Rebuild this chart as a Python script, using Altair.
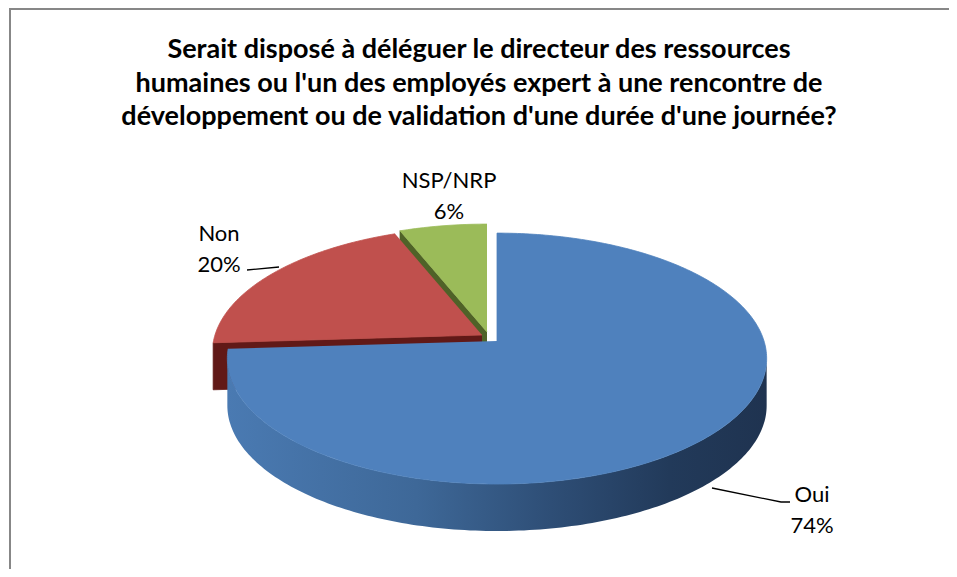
import math
import altair as alt
import pandas as pd

# ---------------- data ----------------
CATEGORIES = ["Oui", "Non", "NSP/NRP"]
PERCENTS = [74, 20, 6]
TITLE_LINES = [
    "Serait disposé à déléguer le directeur des ressources",
    "humaines ou l'un des employés expert à une rencontre de",
    "développement ou de validation d'une durée d'une journée?",
]

# ---------------- styles ----------------
TOP_COLORS = ["#4F81BD", "#C0504D", "#9BBB59"]
FACE_COLORS = ["#2F5179", "#611917", "#4F6228"]
WALL_COLORS = ["#2F5179", "#7A2624", "#5E7530"]
BLUE_WALL_STOPS = [(0.0, "#4A7AB2"), (0.35, "#3E6898"), (0.6, "#2E4E76"),
                   (0.82, "#223A5A"), (1.0, "#1F3350")]
FONT = "Lato"

# ---------------- layout (page pixels) ----------------
W, H, PAGE = 941, 561, 8
CX, CY = 487.0, 332.0          # pie centre
SX, KY, PERSP = 267.0, 123.0, 0.14
DEPTH = 47.0
OFFSETS = [(10.0, 9.0), (-5.0, 3.0), (0.0, 0.0)]   # exploded slices
VIS0 = math.degrees(math.acos(-PERSP))
VIS1 = 360.0 - VIS0

TITLE_X, TITLE_Y0, TITLE_LH = 479, 58, 33.5
LABEL_POS = [(812, 502), (219, 241), (449, 188)]   # first-line centre/baseline
LABEL_LH = 31
LEADERS = [[(712, 488), (781, 502), (790, 502)],
           [(247, 270), (279, 267)],
           []]
BORDER = [(10, 8, 10, 569), (10, 9, 949, 9)]

XS = alt.Scale(domain=[PAGE, PAGE + W], nice=False, zero=False)
YS = alt.Scale(domain=[PAGE, PAGE + H], nice=False, zero=False, reverse=True)


def proj(i, a_deg, drop=0.0):
    a = math.radians(a_deg)
    X, Y = math.sin(a), math.cos(a)
    d = 1 + PERSP * Y
    ox, oy = OFFSETS[i]
    return (CX + ox + SX * X / d, CY + oy - KY * Y / d + drop)


def apex(i, drop=0.0):
    ox, oy = OFFSETS[i]
    return (CX + ox, CY + oy + drop)


def arc(i, a0, a1, drop=0.0):
    n = max(2, int(abs(a1 - a0)) + 2)
    return [proj(i, a0 + (a1 - a0) * k / (n - 1), drop) for k in range(n)]


# slice angles
total = float(sum(PERCENTS))
angles = []
cum = 0.0
for v in PERCENTS:
    angles.append((360 * cum / total, 360 * (cum + v) / total))
    cum += v

# paint order: farthest slice first
order_idx = sorted(range(len(CATEGORIES)),
                   key=lambda i: -math.cos(math.radians(sum(angles[i]) / 2)))

polys = []  # (name, points, fill)
for i in order_idx:
    a0, a1 = angles[i]
    if math.cos(math.radians(a0 - 90)) < -0.01:
        pts = [apex(i), proj(i, a0), proj(i, a0, DEPTH), apex(i, DEPTH)]
        polys.append((f"face0_{i}", pts, FACE_COLORS[i]))
    if math.cos(math.radians(a1 + 90)) < -0.01:
        pts = [apex(i), proj(i, a1), proj(i, a1, DEPTH), apex(i, DEPTH)]
        polys.append((f"face1_{i}", pts, FACE_COLORS[i]))
    w0, w1 = max(a0, VIS0), min(a1, VIS1)
    if w1 > w0:
        pts = arc(i, w0, w1) + arc(i, w1, w0, DEPTH)
        if i == 0:
            fill = alt.Gradient(
                gradient="linear", x1=0, x2=1, y1=0, y2=0,
                stops=[alt.GradientStop(offset=o, color=c) for o, c in BLUE_WALL_STOPS])
        else:
            fill = WALL_COLORS[i]
        polys.append((f"wall_{i}", pts, fill))
    pts = [apex(i)] + arc(i, a0, a1)
    polys.append((f"top_{i}", pts, TOP_COLORS[i]))

rows = []
for name, pts, _ in polys:
    for k, (x, y) in enumerate(pts):
        rows.append({"poly": name, "k": k, "x": x, "y": y})
poly_df = pd.DataFrame(rows)

layers = []

# border
border_df = pd.DataFrame([{"x": a, "y": b, "x2": c, "y2": d} for a, b, c, d in BORDER])
layers.append(alt.Chart(border_df).mark_rule(color="#878787", strokeWidth=2).encode(
    x=alt.X("x:Q", scale=XS, axis=None), y=alt.Y("y:Q", scale=YS, axis=None),
    x2="x2:Q", y2="y2:Q"))

for name, pts, fill in polys:
    solid = isinstance(fill, str)
    mk = dict(fill=fill, interpolate="linear")
    if solid:
        mk.update(stroke=fill, strokeWidth=0.8)
    else:
        mk.update(strokeWidth=0)
    layers.append(
        alt.Chart(poly_df).transform_filter(alt.datum.poly == name)
        .mark_line(**mk)
        .encode(x=alt.X("x:Q", scale=XS, axis=None),
                y=alt.Y("y:Q", scale=YS, axis=None),
                order="k:Q"))

# leader lines
lead_rows = []
for i, pts in enumerate(LEADERS):
    for k, (x, y) in enumerate(pts):
        lead_rows.append({"lead": CATEGORIES[i], "k": k, "x": x, "y": y})
lead_df = pd.DataFrame(lead_rows)
layers.append(alt.Chart(lead_df).mark_line(color="#000000", strokeWidth=1.3).encode(
    x=alt.X("x:Q", scale=XS, axis=None), y=alt.Y("y:Q", scale=YS, axis=None),
    detail="lead:N", order="k:Q"))

# data labels
lab_rows = []
for i, cat in enumerate(CATEGORIES):
    x, y = LABEL_POS[i]
    lab_rows.append({"t": cat, "x": x, "y": y})
    lab_rows.append({"t": f"{PERCENTS[i]}%", "x": x, "y": y + LABEL_LH})
lab_df = pd.DataFrame(lab_rows)
layers.append(alt.Chart(lab_df).mark_text(
    font=FONT, fontSize=22, align="center", baseline="alphabetic", color="#000000").encode(
    x=alt.X("x:Q", scale=XS, axis=None), y=alt.Y("y:Q", scale=YS, axis=None), text="t:N"))

# title
title_df = pd.DataFrame([{"t": t, "x": TITLE_X, "y": TITLE_Y0 + j * TITLE_LH}
                         for j, t in enumerate(TITLE_LINES)])
layers.append(alt.Chart(title_df).mark_text(
    font=FONT, fontSize=27, fontWeight="bold", align="center", baseline="alphabetic",
    color="#000000").encode(
    x=alt.X("x:Q", scale=XS, axis=None), y=alt.Y("y:Q", scale=YS, axis=None), text="t:N"))

chart = alt.layer(*layers).properties(
    width=W, height=H, padding=0, autosize=alt.AutoSizeParams(type="none"),
    background="#ffffff",
).configure_view(stroke=None)

chart.save("out.html", embed_options={"renderer": "svg", "actions": False})
